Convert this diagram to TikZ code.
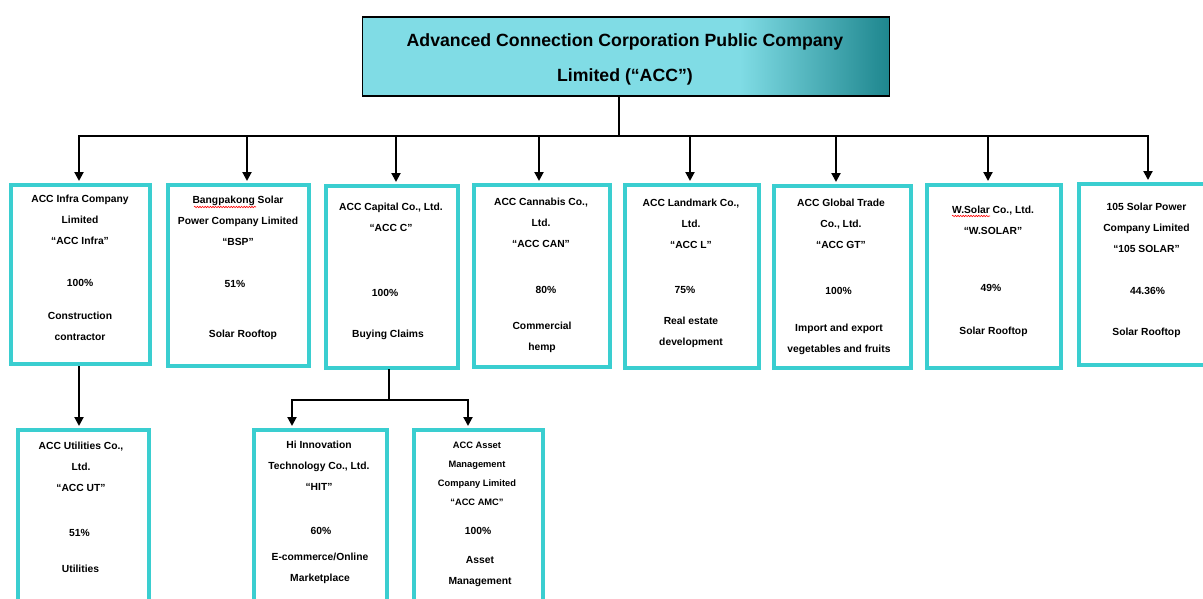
\documentclass[tikz,border=0pt]{standalone}
\usepackage{fontspec}
\setmainfont{Liberation Sans}
\usetikzlibrary{arrows.meta,decorations.pathmorphing}

\definecolor{boxcyan}{RGB}{58,206,208}
\definecolor{headlight}{RGB}{128,220,229}
\definecolor{headdark}{RGB}{30,134,142}

\tikzset{
  unit/.style 2 args={draw=boxcyan, line width=4pt, fill=white, minimum width=#1, minimum height=#2, inner sep=0pt},
  nm/.style={font=\fontsize{10.3}{21}\selectfont\bfseries, align=center, inner sep=0pt},
  small/.style={font=\fontsize{9.3}{19}\selectfont\bfseries, align=center, inner sep=0pt},
  link/.style={line width=2pt, line cap=rect},
  arr/.style={line width=2pt, -{Triangle[width=9pt,length=9pt]}, shorten >=2pt},
  squig/.style={red, line width=0.6pt, decorate, decoration={snake, amplitude=0.7pt, segment length=2.6pt}},
  head/.style={draw=black, line width=1.3pt, minimum width=527pt, minimum height=79pt, inner sep=0pt,
    path picture={
      \fill[headlight] (path picture bounding box.south west) rectangle (path picture bounding box.north east);
      \shade[left color=headlight, right color=headdark] ([xshift=-150pt]path picture bounding box.south east) rectangle (path picture bounding box.north east);
    }},
  title/.style={font=\fontsize{17.7}{35}\selectfont\bfseries, align=center, inner sep=0pt}
}

\begin{document}
\begin{tikzpicture}[x=1pt,y=-1pt]
  \useasboundingbox (0,0) rectangle (1203,598);

  % parent company
  \node[head] (acc) at (626,56.5) {};
  \node[title] (acc-t) at (625,59.5) {Advanced Connection Corporation Public Company\\Limited (“ACC”)};

  % first level
  \node[unit={139pt}{179pt}] (infra) at (80.5,274.5) {};
  \node[unit={141pt}{181pt}] (bsp) at (238.5,275.5) {};
  \node[unit={132pt}{182pt}] (c) at (392,277) {};
  \node[unit={136pt}{182pt}] (can) at (542,276) {};
  \node[unit={134pt}{183pt}] (l) at (692,276.5) {};
  \node[unit={137pt}{182pt}] (gt) at (842.5,277) {};
  \node[unit={134pt}{183pt}] (wsolar) at (994,276.5) {};
  \node[unit={138pt}{181pt}] (solar) at (1148,274.5) {};

  % second level
  \node[unit={131pt}{200pt}] (ut) at (83.5,530) {};
  \node[unit={133pt}{200pt}] (hit) at (320.5,530) {};
  \node[unit={129pt}{200pt}] (amc) at (478.5,530) {};

  % texts
  \node[nm] (infra-n) at (80,220) {ACC Infra Company\\Limited\\“ACC Infra”};
  \node[nm] (infra-p) at (80,283) {100\%};
  \node[nm] (infra-b) at (80,326) {Construction\\contractor};

  \node[nm] (bsp-n) at (238,221) {Bangpakong Solar\\Power Company Limited\\“BSP”};
  \node[nm] (bsp-p) at (235,284) {51\%};
  \node[nm] (bsp-b) at (243,335) {Solar Rooftop};
  \draw[squig] (194,207) -- (256,207);

  \node[nm] (c-n) at (391,217.5) {ACC Capital Co., Ltd.\\“ACC C”};
  \node[nm] (c-p) at (385,293) {100\%};
  \node[nm] (c-b) at (388,335) {Buying Claims};

  \node[nm] (can-n) at (541,222.5) {ACC Cannabis Co.,\\Ltd.\\“ACC CAN”};
  \node[nm] (can-p) at (546,290) {80\%};
  \node[nm] (can-b) at (542,337.5) {Commercial\\hemp};

  \node[nm] (l-n) at (691,224) {ACC Landmark Co.,\\Ltd.\\“ACC L”};
  \node[nm] (l-p) at (685,290) {75\%};
  \node[nm] (l-b) at (691,332) {Real estate\\development};

  \node[nm] (gt-n) at (841,224) {ACC Global Trade\\Co., Ltd.\\“ACC GT”};
  \node[nm] (gt-p) at (838.5,291) {100\%};
  \node[nm] (gt-b) at (839,339) {Import and export\\vegetables and fruits};

  \node[nm] (wsolar-n) at (993,220) {W.Solar Co., Ltd.\\“W.SOLAR”};
  \node[nm] (wsolar-p) at (991,288) {49\%};
  \node[nm] (wsolar-b) at (993.5,332) {Solar Rooftop};
  \draw[squig] (952,216) -- (990,216);

  \node[nm] (solar-n) at (1146.5,228) {105 Solar Power\\Company Limited\\“105 SOLAR”};
  \node[nm] (solar-p) at (1147.5,291) {44.36\%};
  \node[nm] (solar-b) at (1146.5,333) {Solar Rooftop};

  \node[nm] (ut-n) at (81,467) {ACC Utilities Co.,\\Ltd.\\“ACC UT”};
  \node[nm] (ut-p) at (79.5,533) {51\%};
  \node[nm] (ut-b) at (80.5,569) {Utilities};

  \node[nm] (hit-n) at (319,466) {Hi Innovation\\Technology Co., Ltd.\\“HIT”};
  \node[nm] (hit-p) at (321,531) {60\%};
  \node[nm] (hit-b) at (320,568) {E-commerce/Online\\Marketplace};

  \node[small] (amc-n) at (477,473.5) {ACC Asset\\Management\\Company Limited\\“ACC AMC”};
  \node[nm] (amc-p) at (478,531) {100\%};
  \node[nm] (amc-b) at (480,571.5) {Asset\\Management};

  % connectors
  \coordinate (bus) at (619,136);
  \coordinate (split) at (389,400);
  \draw[link] (acc.south -| bus) -- (bus);
  \draw[link] (79,136) -- (1148,136);
  \draw[arr] (79,136) -- (infra.north -| 79,0);
  \draw[arr] (247,136) -- (bsp.north -| 247,0);
  \draw[arr] (396,136) -- (c.north -| 396,0);
  \draw[arr] (539,136) -- (can.north -| 539,0);
  \draw[arr] (690,136) -- (l.north -| 690,0);
  \draw[arr] (836,136) -- (gt.north -| 836,0);
  \draw[arr] (988,136) -- (wsolar.north -| 988,0);
  \draw[arr] (1148,136) -- (solar.north -| 1148,0);

  \draw[arr] (infra.south -| 79,0) -- (ut.north -| 79,0);
  \draw[link] (c.south -| split) -- (split);
  \draw[link] (292,400) -- (468,400);
  \draw[arr] (292,400) -- (hit.north -| 292,0);
  \draw[arr] (468,400) -- (amc.north -| 468,0);
\end{tikzpicture}
\end{document}
